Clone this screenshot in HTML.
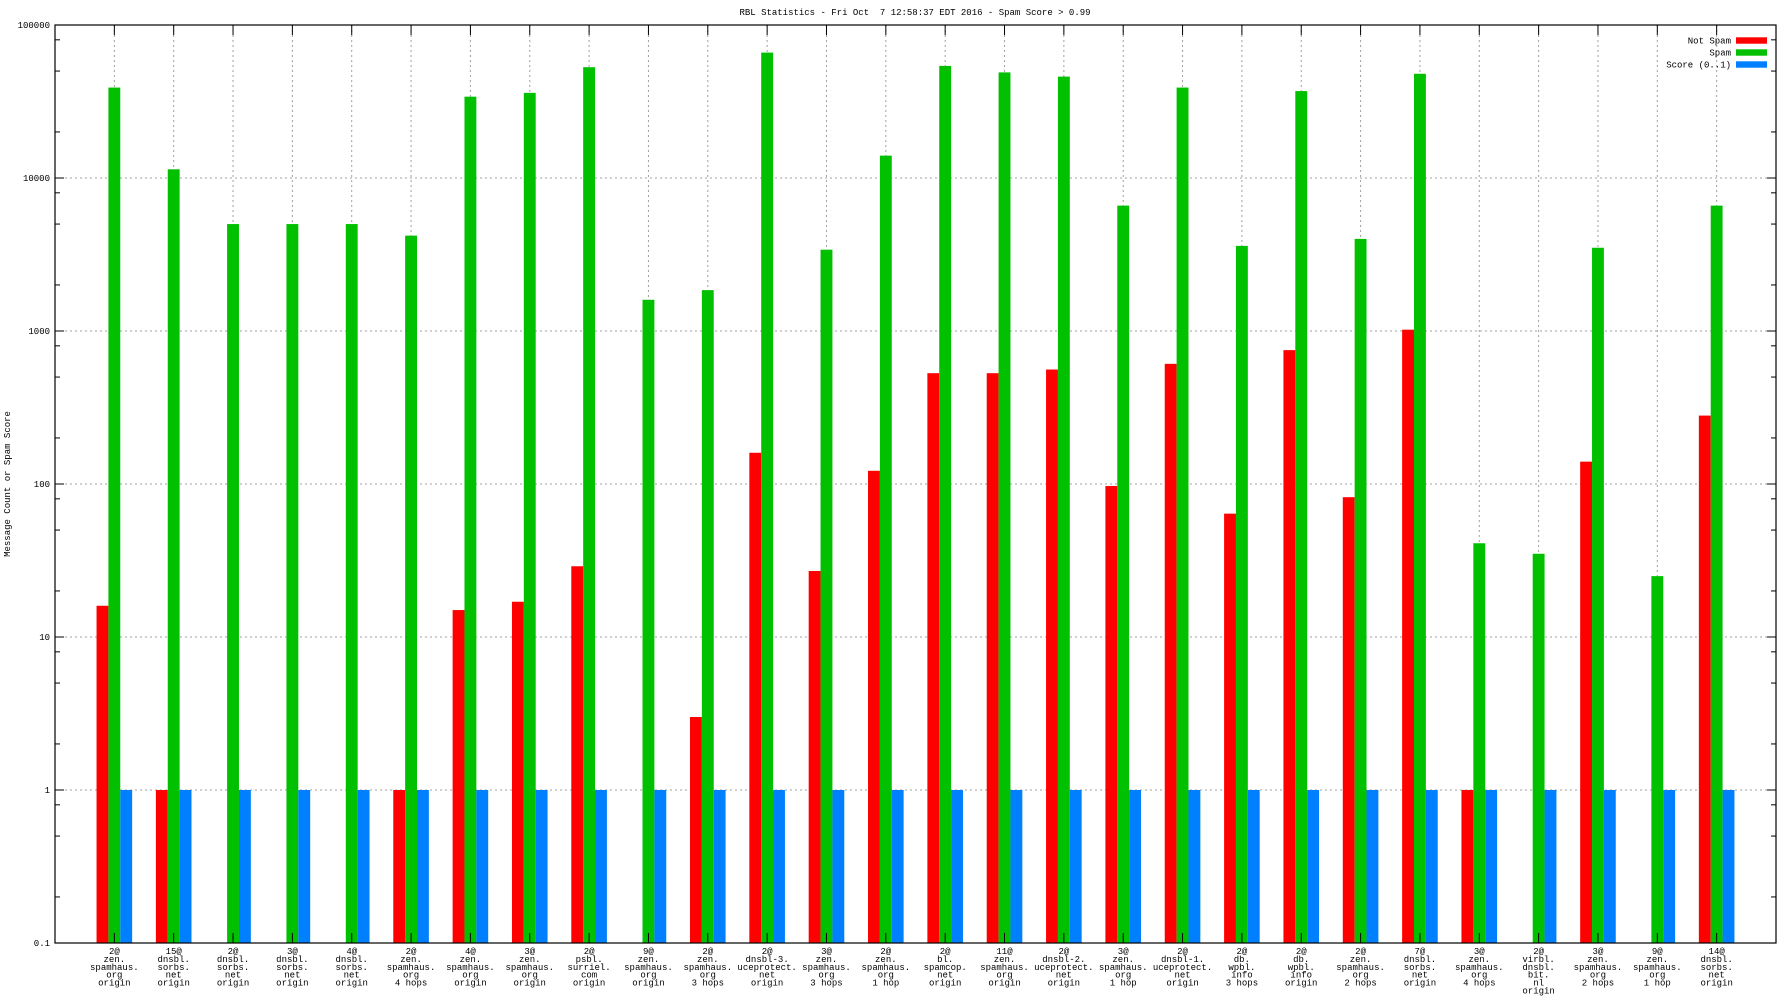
<!DOCTYPE html>
<html><head><meta charset="utf-8"><style>
html,body{margin:0;padding:0;background:#fff;}
svg{display:block;font-family:"Liberation Mono",monospace;}
</style></head><body>
<svg id="chart" width="1792" height="1008" xmlns="http://www.w3.org/2000/svg">
<text x="915" y="15" font-size="9" text-anchor="middle" xml:space="preserve">RBL Statistics - Fri Oct  7 12:58:37 EDT 2016 - Spam Score &gt; 0.99</text>
<text transform="translate(10,484) rotate(-90)" font-size="9" text-anchor="middle">Message Count or Spam Score</text>
<g id="grid"></g><g id="bars"></g><g id="axes"></g><g id="labels"></g>
<g font-size="9">
<text x="1731" y="43.5" text-anchor="end">Not Spam</text>
<rect x="1736" y="37.3" width="31" height="6.4" fill="#ff0000"/>
<text x="1731" y="55.5" text-anchor="end">Spam</text>
<rect x="1736" y="49.3" width="31" height="6.4" fill="#00c000"/>
<text x="1731" y="67.5" text-anchor="end">Score (0..1)</text>
<rect x="1736" y="61.3" width="31" height="6.4" fill="#0080ff"/>
</g>
</svg>
<script>
const categories = [
"2@|zen.|spamhaus.|org|origin","15@|dnsbl.|sorbs.|net|origin","2@|dnsbl.|sorbs.|net|origin","3@|dnsbl.|sorbs.|net|origin","4@|dnsbl.|sorbs.|net|origin",
"2@|zen.|spamhaus.|org|4 hops","4@|zen.|spamhaus.|org|origin","3@|zen.|spamhaus.|org|origin","2@|psbl.|surriel.|com|origin","9@|zen.|spamhaus.|org|origin",
"2@|zen.|spamhaus.|org|3 hops","2@|dnsbl-3.|uceprotect.|net|origin","3@|zen.|spamhaus.|org|3 hops","2@|zen.|spamhaus.|org|1 hop","2@|bl.|spamcop.|net|origin",
"11@|zen.|spamhaus.|org|origin","2@|dnsbl-2.|uceprotect.|net|origin","3@|zen.|spamhaus.|org|1 hop","2@|dnsbl-1.|uceprotect.|net|origin","2@|db.|wpbl.|info|3 hops",
"2@|db.|wpbl.|info|origin","2@|zen.|spamhaus.|org|2 hops","7@|dnsbl.|sorbs.|net|origin","3@|zen.|spamhaus.|org|4 hops","2@|virbl.|dnsbl.|bit.|nl|origin",
"3@|zen.|spamhaus.|org|2 hops","9@|zen.|spamhaus.|org|1 hop","14@|dnsbl.|sorbs.|net|origin"];
const notSpam = [16,1,0,0,0,1,15,17,29,0,3,160,27,122,530,530,560,97,610,64,750,82,1020,1,0,140,0,280];
const spam = [39000,11400,5000,5000,5000,4200,34000,36000,53000,1600,1850,66000,3400,14000,54000,49000,46000,6600,39000,3600,37000,4000,48000,41,35,3500,25,6600];
const score = [1,1,1,1,1,1,1,1,1,1,1,1,1,1,1,1,1,1,1,1,1,1,1,1,1,1,1,1];
const yTickLabels = ["0.1","1","10","100","1000","10000","100000"];

const L=55,R=1776,T=25,B=943;
const N=categories.length;
const unit=(R-L)/(N+1);
function xPos(i){return L+(i+1)*unit;}
function yPos(v){return B-(Math.log10(v)+1)/6*(B-T);}
const NS="http://www.w3.org/2000/svg";
function mk(tag,attrs,parent){const e=document.createElementNS(NS,tag);for(const k in attrs)e.setAttribute(k,attrs[k]);parent.appendChild(e);return e;}
const grid=document.getElementById('grid'),bars=document.getElementById('bars'),axes=document.getElementById('axes'),labels=document.getElementById('labels');

yTickLabels.forEach((t,k)=>{
  const y=yPos(parseFloat(t));
  if(k>0&&k<6){const g=mk('line',{x1:L,x2:R,y1:y,y2:y,stroke:'#a0a0a0','stroke-dasharray':'2,3','stroke-width':1},grid);
  
  }
  const tx=mk('text',{x:L-5,y:y+3,'font-size':9,'text-anchor':'end'},labels);
  tx.textContent=t;
  
  
  mk('line',{x1:L,x2:L+9,y1:y,y2:y,stroke:'#000'},axes);
  mk('line',{x1:R,x2:R-9,y1:y,y2:y,stroke:'#000'},axes);
  if(k<6){[2,5,8].forEach(m=>{const ym=yPos(parseFloat(t)*m);
    mk('line',{x1:L,x2:L+5,y1:ym,y2:ym,stroke:'#000'},axes);
    mk('line',{x1:R,x2:R-5,y1:ym,y2:ym,stroke:'#000'},axes);});}
});

const series=[[notSpam,'#ff0000',-0.2,'bar-not-spam'],[spam,'#00c000',0,'bar-spam'],[score,'#0080ff',0.2,'bar-score']];
categories.forEach((c,i)=>{
  const x=xPos(i);
  const g=mk('line',{x1:x,x2:x,y1:T,y2:B,stroke:'#a0a0a0','stroke-dasharray':'2,3'},grid);
  
  
  mk('line',{x1:x,x2:x,y1:B,y2:B-10,stroke:'#000'},axes);
  mk('line',{x1:x,x2:x,y1:T,y2:T+10,stroke:'#000'},axes);
  series.forEach(([arr,col,off,name])=>{
    const v=arr[i]; if(!(v>0.1))return;
    const y=yPos(v);
    const bx=x+(off-0.1)*unit;
    const r=mk('rect',{x:bx,y:y,width:0.2*unit,height:B-y,fill:col},bars);
    
    
  });
  const t=mk('text',{'font-size':9,'text-anchor':'middle'},labels);
  
  
  c.split('|').forEach((ln,j)=>{const s=mk('tspan',{x:x,y:B+11+j*7.9},t);s.textContent=ln;});
});
mk('rect',{x:L,y:T,width:R-L,height:B-T,fill:'none',stroke:'#000','stroke-width':1.2},axes);
</script>
</body></html>
